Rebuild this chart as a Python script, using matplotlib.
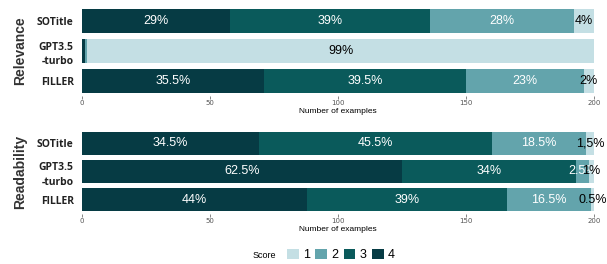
import numpy as np
import matplotlib.pyplot as plt
from matplotlib.patches import Patch

# models shown on each panel (top to bottom)
models = ["SOTitle", "GPT3.5\n-turbo", "FILLER"]
scores = ["1", "2", "3", "4"]
colors = {"1": "#c4dfe4", "2": "#63a4ac", "3": "#0a5a5b", "4": "#063b44"}

# counts per score (out of 200 examples), stacked 4 -> 3 -> 2 -> 1
relevance = {
    "4": [58, 1, 71],
    "3": [78, 0, 79],
    "2": [56, 1, 46],
    "1": [8, 198, 4],
}
relevance_labels = {
    "4": ["29%", "", "35.5%"],
    "3": ["39%", "", "39.5%"],
    "2": ["28%", "", "23%"],
    "1": ["4%", "99%", "2%"],
}
readability = {
    "4": [69, 125, 88],
    "3": [91, 68, 78],
    "2": [37, 5, 33],
    "1": [3, 2, 1],
}
readability_labels = {
    "4": ["34.5%", "62.5%", "44%"],
    "3": ["45.5%", "34%", "39%"],
    "2": ["18.5%", "2.5%", "16.5%"],
    "1": ["1,5%", "1%", "0.5%"],
}

W, H = 607, 264
fig = plt.figure(figsize=(W / 100, H / 100), dpi=100)


def px_axes(x0, y0, x1, y1):
    return fig.add_axes([x0 / W, 1 - y1 / H, (x1 - x0) / W, (y1 - y0) / H])


def draw_panel(ax, data, labels, title):
    y = np.arange(len(models))
    left = np.zeros(len(models))
    for s in ["4", "3", "2", "1"]:
        vals = np.array(data[s], dtype=float)
        ax.barh(y, vals, left=left, height=0.82, color=colors[s], linewidth=0)
        for i, (v, lab) in enumerate(zip(vals, labels[s])):
            if lab:
                tc = "black" if s == "1" else "white"
                ax.text(left[i] + v / 2, y[i], lab, ha="center", va="center",
                        fontsize=9, color=tc, family="Liberation Sans")
        left += vals
    ax.set_ylim(2.5, -0.5)
    ax.set_xlim(0, 200)
    ax.set_yticks(y)
    ax.set_yticklabels(models, fontsize=7.5, fontweight="bold",
                       family="Open Sans", color="#222222", linespacing=1.5)
    ax.tick_params(axis="y", length=0, pad=6)
    ax.set_xticks([0, 50, 100, 150, 200])
    ax.tick_params(axis="x", length=2, width=0.5, labelsize=5,
                   labelcolor="#555555", color="#555555", pad=1)
    ax.set_xlabel("Number of examples", fontsize=6, labelpad=1,
                  family="Liberation Sans")
    for sp in ax.spines.values():
        sp.set_visible(False)
    ax.set_ylabel(title, fontsize=10, fontweight="bold", color="#333333",
                  family="Liberation Sans")
    ax.yaxis.set_label_coords((27 - 82) / 512, 0.5)


ax1 = px_axes(82, 6, 594, 96)
draw_panel(ax1, relevance, relevance_labels, "Relevance")
ax2 = px_axes(82, 129, 594, 214)
draw_panel(ax2, readability, readability_labels, "Readability")

handles = [Patch(facecolor=colors[s], edgecolor="none") for s in scores]
fig.legend(handles, scores, loc="center", bbox_to_anchor=(341 / W, 1 - 255 / H),
           ncol=4, frameon=False, handlelength=0.95, handleheight=0.95,
           handletextpad=0.35, columnspacing=0.4, borderpad=0, borderaxespad=0,
           prop={"family": "Liberation Sans", "size": 9})
fig.text(264 / W, 1 - 255 / H, "Score", ha="center", va="center", fontsize=6.5,
         family="Liberation Sans")

fig.savefig("out.png", dpi=100)
